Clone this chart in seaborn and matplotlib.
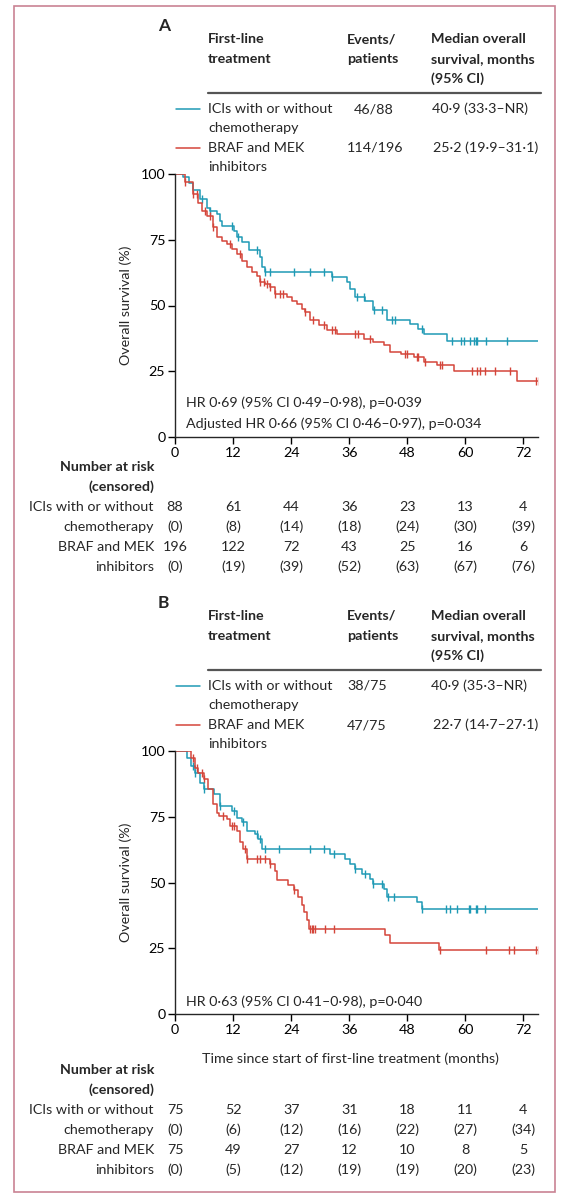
import numpy as np
import pandas as pd
import matplotlib
matplotlib.use("Agg")
import matplotlib.pyplot as plt
import matplotlib.transforms as mtransforms
from matplotlib.patches import Rectangle
import seaborn as sns

# --- data ---
months_ticks = [0, 12, 24, 36, 48, 60, 72]
end_time = 75.3

# panel A: step times (months) and survival (%) after each step
a_ici_t = [0, 1.7, 2.8, 3.8, 5.2, 6.6, 7.2, 8.6, 9.3, 9.7, 12.1, 12.8, 13.8, 15.2, 17.6, 17.9, 18.6,
           32.4, 35.5, 36.2, 37.2, 39.3, 41.0, 43.8, 48.6, 50.3, 51.4, 56.2]
a_ici_s = [100, 98.9, 96.5, 94.0, 90.4, 87.2, 86.0, 84.7, 82.2, 80.3, 78.4, 75.9, 74.0, 71.1, 68.3, 64.5, 62.9,
           60.7, 58.8, 56.3, 53.4, 51.9, 48.1, 44.3, 43.0, 41.2, 39.0, 36.5]
a_ici_cens = [5.5, 7.2, 11.7, 13.1, 16.9, 18.6, 19.7, 24.5, 27.9, 30.8, 32.4, 37.6, 39.1, 41.2, 42.8,
              44.8, 45.5, 51.0, 57.2, 59.0, 59.7, 61.0, 61.7, 62.1, 62.4, 64.3, 68.5]

a_braf_t = [0, 2.1, 3.8, 4.8, 5.5, 6.6, 7.9, 8.6, 9.7, 10.7, 11.7, 12.8, 13.8, 14.8, 15.9, 16.9, 17.6,
            18.6, 19.7, 20.7, 23.1, 24.1, 25.2, 26.2, 26.9, 27.9, 29.7, 31.4, 33.4, 39.0, 41.0, 43.1,
            44.5, 46.6, 49.3, 51.4, 54.1, 57.6, 70.7]
a_braf_s = [100, 97.1, 92.3, 89.1, 86.0, 84.1, 79.7, 76.1, 74.6, 73.4, 71.5, 69.6, 67.0, 64.8, 62.6, 61.4, 58.8,
            58.0, 56.9, 54.4, 53.2, 51.9, 50.6, 48.7, 47.5, 44.3, 42.4, 40.5, 39.3, 37.4, 36.1, 34.8,
            32.3, 31.7, 30.4, 28.5, 27.3, 25.1, 21.2]
a_braf_cens = [2.1, 3.8, 4.5, 6.2, 7.2, 7.9, 11.4, 13.4, 17.6, 18.3, 19.0, 19.7, 20.7, 21.7, 22.4, 26.9,
               28.6, 30.7, 32.4, 33.1, 37.2, 37.9, 40.3, 47.6, 47.9, 50.0, 50.3, 51.7, 54.8, 55.2, 61.4,
               62.4, 63.1, 64.1, 66.2, 69.3, 74.5, 75.2]

# panel B
b_ici_t = [0, 2.4, 3.4, 4.1, 5.2, 5.9, 8.0, 9.3, 11.7, 12.8, 13.8, 14.8, 16.6, 17.2, 17.9, 32.1, 35.2,
           36.2, 37.2, 38.6, 40.3, 41.0, 43.1, 43.8, 50.0, 51.0]
b_ici_s = [100, 97.5, 94.3, 91.8, 88.0, 85.5, 83.6, 79.2, 77.3, 74.7, 72.9, 69.7, 68.4, 66.5, 62.8, 60.9, 59.0,
           57.1, 55.2, 53.3, 51.4, 49.5, 47.6, 44.4, 42.6, 39.8]
b_ici_cens = [3.8, 4.1, 5.9, 9.3, 12.1, 14.1, 16.9, 17.6, 18.6, 21.4, 27.9, 30.7, 32.8, 37.2, 39.3, 41.0,
              42.8, 44.1, 45.2, 51.0, 55.9, 56.9, 58.3, 60.7, 61.0, 62.1, 62.4, 64.1]

b_braf_t = [0, 3.4, 4.1, 4.8, 5.9, 6.9, 7.9, 8.6, 9.0, 10.7, 11.4, 12.8, 13.4, 14.1, 14.8, 19.7, 20.7,
            21.0, 23.4, 24.5, 25.5, 26.2, 26.6, 27.2, 27.6, 43.4, 44.5, 54.5]
b_braf_s = [100, 97.5, 93.7, 91.8, 89.3, 85.5, 79.8, 76.6, 75.4, 74.1, 71.6, 69.7, 65.3, 62.8, 59.0, 57.1, 54.5,
            50.8, 48.9, 47.0, 44.4, 41.3, 38.8, 35.6, 32.4, 29.9, 27.1, 24.2]
b_braf_cens = [3.8, 4.5, 5.5, 5.9, 10.0, 11.7, 12.1, 14.5, 14.8, 16.9, 17.6, 18.6, 19.7, 24.5, 27.9, 28.3,
               28.6, 29.0, 31.0, 32.8, 54.7, 64.3, 69.0, 70.0, 74.5, 75.2]

# number at risk (censored)
a_risk_ici = [88, 61, 44, 36, 23, 13, 4]
a_cens_ici = [0, 8, 14, 18, 24, 30, 39]
a_risk_braf = [196, 122, 72, 43, 25, 16, 6]
a_cens_braf = [0, 19, 39, 52, 63, 67, 76]
b_risk_ici = [75, 52, 37, 31, 18, 11, 4]
b_cens_ici = [0, 6, 12, 16, 22, 27, 34]
b_risk_braf = [75, 49, 27, 12, 10, 8, 5]
b_cens_braf = [0, 5, 12, 19, 19, 20, 23]

# header table texts
a_events = ["46/88", "114/196"]
a_median = ["40·9 (33·3–NR)", "25·2 (19·9–31·1)"]
b_events = ["38/75", "47/75"]
b_median = ["40·9 (35·3–NR)", "22·7 (14·7–27·1)"]
a_hr = ["HR 0·69 (95% CI 0·49–0·98), p=0·039", "Adjusted HR 0·66 (95% CI 0·46–0·97), p=0·034"]
b_hr = ["HR 0·63 (95% CI 0·41–0·98), p=0·040"]

BLUE = "#1f9ab5"
RED = "#d4453a"
W, H = 575, 1200

sns.set_style("ticks")
plt.rcParams["font.family"] = ["Lato", "DejaVu Sans"]
plt.rcParams["axes.linewidth"] = 1.0
FS = 10.3

fig = plt.figure(figsize=(W / 100, H / 100), dpi=100)


def px(x, y):
    return x / W, 1 - y / H


def ftext(x, y, s, **kw):
    kw.setdefault("fontsize", FS)
    kw.setdefault("va", "center")
    fig.text(*px(x, y), s, **kw)


def km_frame(t, s):
    t = list(t) + [end_time]
    s = list(s) + [s[-1]]
    return pd.DataFrame({"month": t, "surv": s})


def cens_frame(t, s, c):
    idx = np.searchsorted(np.array(t), np.array(c), side="right") - 1
    return pd.DataFrame({"month": c, "surv": np.array(s)[idx]})


def panel(top, letter, events, medians, curves, hr_lines, hr_y, risk, xlabel):
    y100, y0 = top + 174, top + 437
    ax = fig.add_axes([175 / W, 1 - y0 / H, (538 - 175) / W, (y0 - y100) / H])
    for (t, s, c, col) in curves:
        sns.lineplot(data=km_frame(t, s), x="month", y="surv", ax=ax, color=col,
                     drawstyle="steps-post", estimator=None, sort=False, lw=1.1)
        sns.scatterplot(data=cens_frame(t, s, c), x="month", y="surv", ax=ax, color=col,
                        marker="|", s=32, linewidth=1.0)
    ax.set_xlim(0, 75)
    ax.set_ylim(0, 100)
    ax.set_xticks(months_ticks)
    ax.set_yticks([0, 25, 50, 75, 100])
    ax.tick_params(direction="out", length=5, width=1, labelsize=FS, pad=2, colors="black")
    sns.despine(ax=ax)
    ax.set_xlabel("")
    ax.set_ylabel("Overall survival (%)", fontsize=FS, labelpad=6)
    for i, line in enumerate(hr_lines):
        ax.text(186 / W, 1 - (top + hr_y + 21 * i) / H, line, transform=fig.transFigure,
                fontsize=FS, va="center")
    if xlabel:
        ftext(350, top + 1059 - 577, xlabel, ha="center")

    # header table
    ftext(158, top + 26, letter, fontsize=12.5, fontweight="bold")
    ftext(208, top + 39, "First-line", fontweight="bold")
    ftext(208, top + 59, "treatment", fontweight="bold")
    ftext(347, top + 39, "Events/", fontweight="bold")
    ftext(347, top + 59, "patients", fontweight="bold")
    ftext(431, top + 39, "Median overall", fontweight="bold")
    ftext(431, top + 59, "survival, months", fontweight="bold")
    ftext(431, top + 79, "(95% CI)", fontweight="bold")
    fig.add_artist(plt.Line2D([208 / W, 541 / W], [1 - (top + 93) / H] * 2, color="#555555", lw=1.6))
    names = [("ICIs with or without", "chemotherapy", BLUE), ("BRAF and MEK", "inhibitors", RED)]
    for k, (n1, n2, col) in enumerate(names):
        yy = top + 109 + 39 * k
        fig.add_artist(plt.Line2D([176 / W, 200 / W], [1 - yy / H] * 2, color=col, lw=1.1))
        ftext(208, yy, n1)
        ftext(208, yy + 19, n2)
        ftext(events[k][1], yy, events[k][0])
        ftext(medians[k][1], yy, medians[k][0])

    # number at risk
    ry = top + (467 if not xlabel else 1070 - 577)
    ftext(154, ry, "Number at risk", ha="right", fontweight="bold")
    ftext(154, ry + 20, "(censored)", ha="right", fontweight="bold")
    trans = mtransforms.blended_transform_factory(ax.transData, fig.transFigure)
    labels = ["ICIs with or without", "chemotherapy", "BRAF and MEK", "inhibitors"]
    for j, (lab, vals, paren) in enumerate(zip(labels, risk, [False, True, False, True])):
        yy = ry + 40 + 20 * j
        ftext(154, yy, lab, ha="right")
        for m, v in zip(months_ticks, vals):
            ax.text(m, 1 - yy / H, f"({v})" if paren else f"{v}", transform=trans,
                    ha="center", va="center", fontsize=FS, clip_on=False)
    return ax


panel(0, "A",
      [(a_events[0], 354), (a_events[1], 347)], [(a_median[0], 432), (a_median[1], 433)],
      [(a_ici_t, a_ici_s, a_ici_cens, BLUE), (a_braf_t, a_braf_s, a_braf_cens, RED)],
      a_hr, 403,
      [a_risk_ici, a_cens_ici, a_risk_braf, a_cens_braf], None)

panel(577, "B",
      [(b_events[0], 347), (b_events[1], 347)], [(b_median[0], 431), (b_median[1], 433)],
      [(b_ici_t, b_ici_s, b_ici_cens, BLUE), (b_braf_t, b_braf_s, b_braf_cens, RED)],
      b_hr, 425,
      [b_risk_ici, b_cens_ici, b_risk_braf, b_cens_braf],
      "Time since start of first-line treatment (months)")

fig.add_artist(Rectangle(px(14, 1192), (555 - 14) / W, (1192 - 6) / H, transform=fig.transFigure,
                         fill=False, edgecolor="#c98393", lw=1.2))

fig.savefig("out.png", dpi=100)
